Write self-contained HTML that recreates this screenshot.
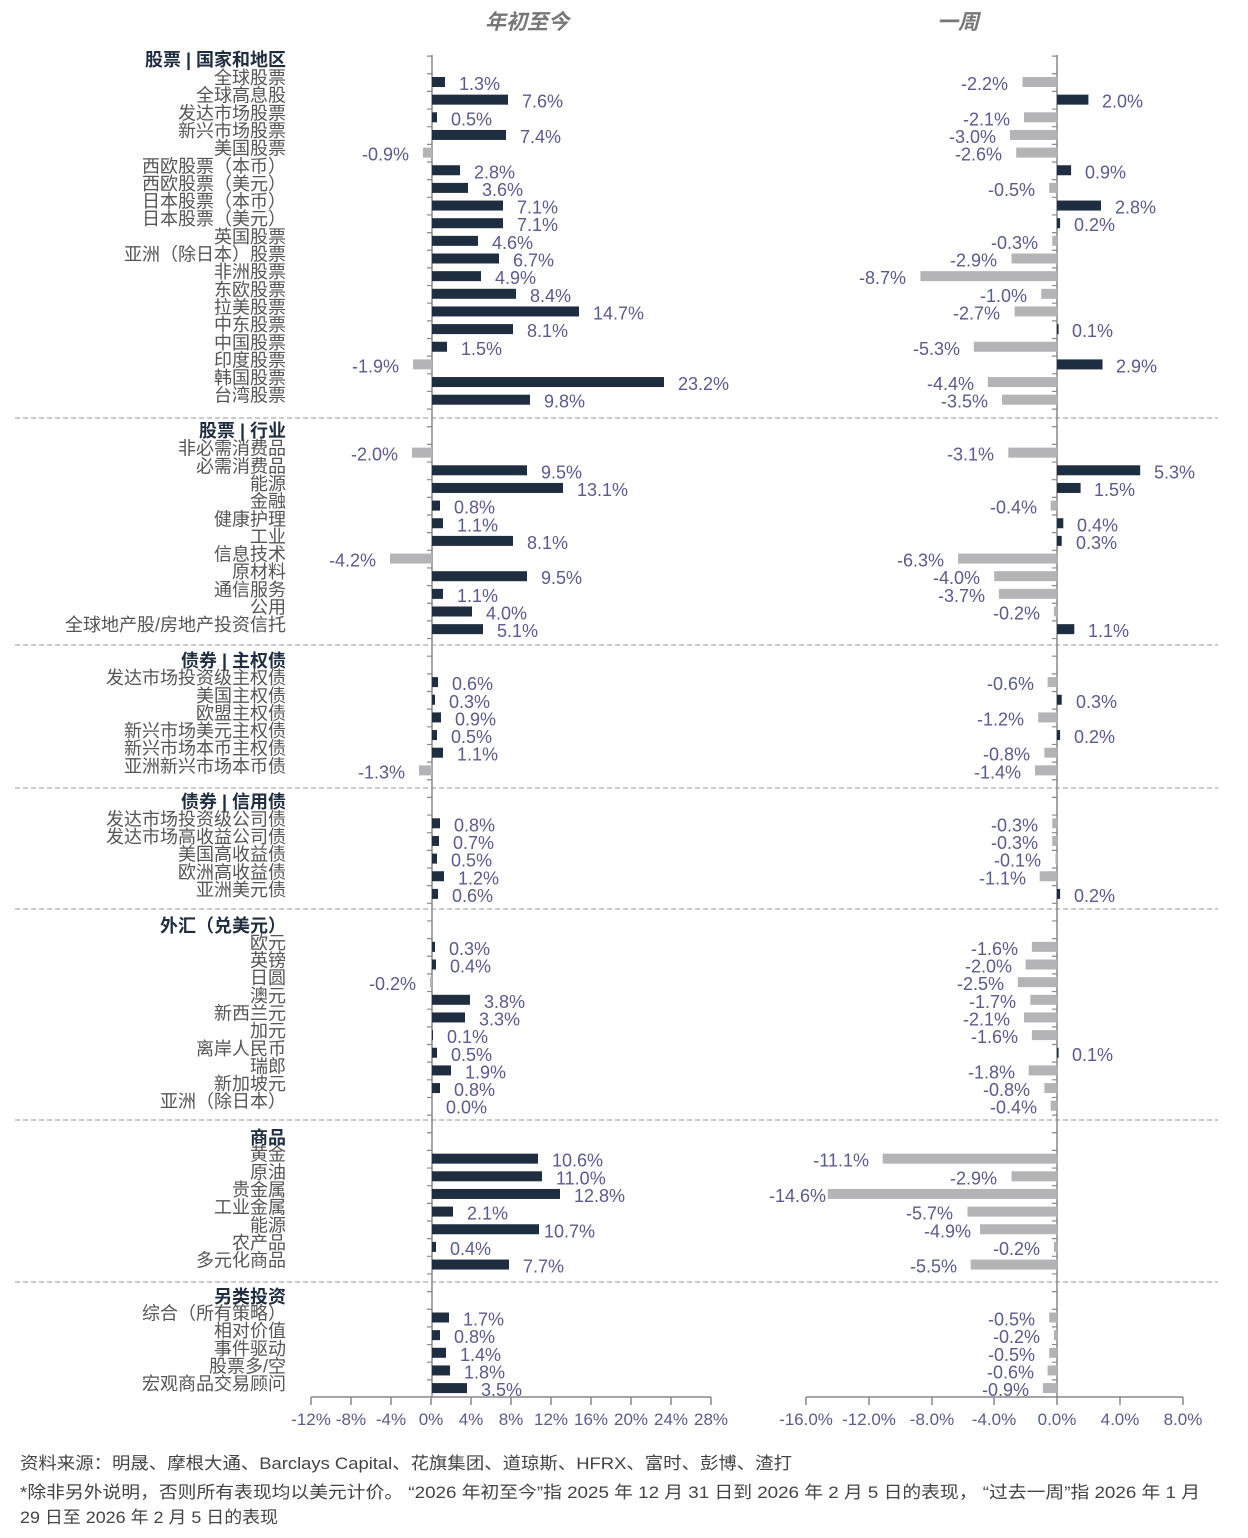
<!DOCTYPE html>
<html><head><meta charset="utf-8"><style>
body{margin:0;background:#fff;}
svg{display:block;font-family:"Liberation Sans","Noto Sans CJK SC",sans-serif;}
.c{font-size:18px;fill:#555;text-anchor:end;}
.h{font-size:18px;fill:#1f2d40;font-weight:bold;text-anchor:end;}
.v{font-size:18px;fill:#5b5a8e;}
.e{text-anchor:end;}
.d{fill:#1f2d40;}
.g{fill:#b4b4b7;}
.t{font-size:17px;fill:#5b5a8e;text-anchor:middle;}
.f{font-size:17px;fill:#444;}
</style></head><body>
<svg width="1248" height="1538" viewBox="0 0 1248 1538">
<text x="527" y="29" text-anchor="middle" font-size="21" font-style="italic" font-weight="bold" fill="#777">年初至今</text>
<text x="958" y="29" text-anchor="middle" font-size="21" font-style="italic" font-weight="bold" fill="#777">一周</text>
<g stroke="#aaa" stroke-width="1.3" stroke-dasharray="5 3">
<line x1="15" x2="1218" y1="418" y2="418"/><line x1="15" x2="1218" y1="645" y2="645"/><line x1="15" x2="1218" y1="788" y2="788"/><line x1="15" x2="1218" y1="909" y2="909"/><line x1="15" x2="1218" y1="1120" y2="1120"/><line x1="15" x2="1218" y1="1282" y2="1282"/>
</g>
<g stroke="#888" stroke-width="1.5" fill="none">
<line x1="432" y1="55" x2="432" y2="1397"/>
<line x1="1057" y1="55" x2="1057" y2="1397"/>
<line x1="311" y1="1397" x2="711" y2="1397"/>
<line x1="806" y1="1397" x2="1183" y2="1397"/>
</g>
<line x1="429.5" y1="55.5" x2="429.5" y2="1397" stroke="#888" stroke-width="5" stroke-dasharray="1.2 16.45"/>
<line x1="1054.5" y1="55.5" x2="1054.5" y2="1397" stroke="#888" stroke-width="5" stroke-dasharray="1.2 16.45"/>
<g stroke="#888" stroke-width="1.5">
<line x1="311" y1="1397" x2="311" y2="1405"/><line x1="351" y1="1397" x2="351" y2="1405"/><line x1="391" y1="1397" x2="391" y2="1405"/><line x1="431" y1="1397" x2="431" y2="1405"/><line x1="471" y1="1397" x2="471" y2="1405"/><line x1="511" y1="1397" x2="511" y2="1405"/><line x1="551" y1="1397" x2="551" y2="1405"/><line x1="591" y1="1397" x2="591" y2="1405"/><line x1="631" y1="1397" x2="631" y2="1405"/><line x1="671" y1="1397" x2="671" y2="1405"/><line x1="711" y1="1397" x2="711" y2="1405"/>
<line x1="806" y1="1397" x2="806" y2="1405"/><line x1="869" y1="1397" x2="869" y2="1405"/><line x1="932" y1="1397" x2="932" y2="1405"/><line x1="994" y1="1397" x2="994" y2="1405"/><line x1="1057" y1="1397" x2="1057" y2="1405"/><line x1="1120" y1="1397" x2="1120" y2="1405"/><line x1="1183" y1="1397" x2="1183" y2="1405"/>
</g>
<g class="t">
<text x="311" y="1425">-12%</text><text x="351" y="1425">-8%</text><text x="391" y="1425">-4%</text><text x="431" y="1425">0%</text><text x="471" y="1425">4%</text><text x="511" y="1425">8%</text><text x="551" y="1425">12%</text><text x="591" y="1425">16%</text><text x="631" y="1425">20%</text><text x="671" y="1425">24%</text><text x="711" y="1425">28%</text>
<text x="806" y="1425">-16.0%</text><text x="869" y="1425">-12.0%</text><text x="932" y="1425">-8.0%</text><text x="994" y="1425">-4.0%</text><text x="1057" y="1425">0.0%</text><text x="1120" y="1425">4.0%</text><text x="1183" y="1425">8.0%</text>
</g>
<text class="h" x="286" y="66">股票 | 国家和地区</text>
<text class="h" x="286" y="437">股票 | 行业</text>
<text class="h" x="286" y="667">债券 | 主权债</text>
<text class="h" x="286" y="808">债券 | 信用债</text>
<text class="h" x="286" y="932">外汇（兑美元）</text>
<text class="h" x="286" y="1144">商品</text>
<text class="h" x="286" y="1303">另类投资</text>

<g transform="translate(0,82)"><text class="c" x="286" y="2">全球股票</text><rect class="d" x="432" y="-5" width="13" height="10"/><text class="v" x="459" y="8">1.3%</text><rect class="g" x="1022.5" y="-5" width="34.5" height="10"/><text class="v e" x="1008" y="8">-2.2%</text></g>
<g transform="translate(0,99.65)"><text class="c" x="286" y="2">全球高息股</text><rect class="d" x="432" y="-5" width="76" height="10"/><text class="v" x="522" y="8">7.6%</text><rect class="d" x="1057" y="-5" width="31.4" height="10"/><text class="v" x="1102" y="8">2.0%</text></g>
<g transform="translate(0,117.3)"><text class="c" x="286" y="2">发达市场股票</text><rect class="d" x="432" y="-5" width="5" height="10"/><text class="v" x="451" y="8">0.5%</text><rect class="g" x="1024" y="-5" width="33" height="10"/><text class="v e" x="1010" y="8">-2.1%</text></g>
<g transform="translate(0,134.95)"><text class="c" x="286" y="2">新兴市场股票</text><rect class="d" x="432" y="-5" width="74" height="10"/><text class="v" x="520" y="8">7.4%</text><rect class="g" x="1009.9" y="-5" width="47.1" height="10"/><text class="v e" x="996" y="8">-3.0%</text></g>
<g transform="translate(0,152.6)"><text class="c" x="286" y="2">美国股票</text><rect class="g" x="423" y="-5" width="9" height="10"/><text class="v e" x="409" y="8">-0.9%</text><rect class="g" x="1016.2" y="-5" width="40.8" height="10"/><text class="v e" x="1002" y="8">-2.6%</text></g>
<g transform="translate(0,170.25)"><text class="c" x="286" y="2">西欧股票（本币）</text><rect class="d" x="432" y="-5" width="28" height="10"/><text class="v" x="474" y="8">2.8%</text><rect class="d" x="1057" y="-5" width="14.1" height="10"/><text class="v" x="1085" y="8">0.9%</text></g>
<g transform="translate(0,187.9)"><text class="c" x="286" y="2">西欧股票（美元）</text><rect class="d" x="432" y="-5" width="36" height="10"/><text class="v" x="482" y="8">3.6%</text><rect class="g" x="1049.2" y="-5" width="7.8" height="10"/><text class="v e" x="1035" y="8">-0.5%</text></g>
<g transform="translate(0,205.55)"><text class="c" x="286" y="2">日本股票（本币）</text><rect class="d" x="432" y="-5" width="71" height="10"/><text class="v" x="517" y="8">7.1%</text><rect class="d" x="1057" y="-5" width="44" height="10"/><text class="v" x="1115" y="8">2.8%</text></g>
<g transform="translate(0,223.2)"><text class="c" x="286" y="2">日本股票（美元）</text><rect class="d" x="432" y="-5" width="71" height="10"/><text class="v" x="517" y="8">7.1%</text><rect class="d" x="1057" y="-5" width="3.1" height="10"/><text class="v" x="1074" y="8">0.2%</text></g>
<g transform="translate(0,240.85)"><text class="c" x="286" y="2">英国股票</text><rect class="d" x="432" y="-5" width="46" height="10"/><text class="v" x="492" y="8">4.6%</text><rect class="g" x="1052.3" y="-5" width="4.7" height="10"/><text class="v e" x="1038" y="8">-0.3%</text></g>
<g transform="translate(0,258.5)"><text class="c" x="286" y="2">亚洲（除日本）股票</text><rect class="d" x="432" y="-5" width="67" height="10"/><text class="v" x="513" y="8">6.7%</text><rect class="g" x="1011.5" y="-5" width="45.5" height="10"/><text class="v e" x="997" y="8">-2.9%</text></g>
<g transform="translate(0,276.15)"><text class="c" x="286" y="2">非洲股票</text><rect class="d" x="432" y="-5" width="49" height="10"/><text class="v" x="495" y="8">4.9%</text><rect class="g" x="920.4" y="-5" width="136.6" height="10"/><text class="v e" x="906" y="8">-8.7%</text></g>
<g transform="translate(0,293.8)"><text class="c" x="286" y="2">东欧股票</text><rect class="d" x="432" y="-5" width="84" height="10"/><text class="v" x="530" y="8">8.4%</text><rect class="g" x="1041.3" y="-5" width="15.7" height="10"/><text class="v e" x="1027" y="8">-1.0%</text></g>
<g transform="translate(0,311.45)"><text class="c" x="286" y="2">拉美股票</text><rect class="d" x="432" y="-5" width="147" height="10"/><text class="v" x="593" y="8">14.7%</text><rect class="g" x="1014.6" y="-5" width="42.4" height="10"/><text class="v e" x="1000" y="8">-2.7%</text></g>
<g transform="translate(0,329.1)"><text class="c" x="286" y="2">中东股票</text><rect class="d" x="432" y="-5" width="81" height="10"/><text class="v" x="527" y="8">8.1%</text><rect class="d" x="1057" y="-5" width="1.6" height="10"/><text class="v" x="1072" y="8">0.1%</text></g>
<g transform="translate(0,346.75)"><text class="c" x="286" y="2">中国股票</text><rect class="d" x="432" y="-5" width="15" height="10"/><text class="v" x="461" y="8">1.5%</text><rect class="g" x="973.8" y="-5" width="83.2" height="10"/><text class="v e" x="960" y="8">-5.3%</text></g>
<g transform="translate(0,364.4)"><text class="c" x="286" y="2">印度股票</text><rect class="g" x="413" y="-5" width="19" height="10"/><text class="v e" x="399" y="8">-1.9%</text><rect class="d" x="1057" y="-5" width="45.5" height="10"/><text class="v" x="1116" y="8">2.9%</text></g>
<g transform="translate(0,382.05)"><text class="c" x="286" y="2">韩国股票</text><rect class="d" x="432" y="-5" width="232" height="10"/><text class="v" x="678" y="8">23.2%</text><rect class="g" x="987.9" y="-5" width="69.1" height="10"/><text class="v e" x="974" y="8">-4.4%</text></g>
<g transform="translate(0,399.7)"><text class="c" x="286" y="2">台湾股票</text><rect class="d" x="432" y="-5" width="98" height="10"/><text class="v" x="544" y="8">9.8%</text><rect class="g" x="1002" y="-5" width="55" height="10"/><text class="v e" x="988" y="8">-3.5%</text></g>

<g transform="translate(0,452.65)"><text class="c" x="286" y="2">非必需消费品</text><rect class="g" x="412" y="-5" width="20" height="10"/><text class="v e" x="398" y="8">-2.0%</text><rect class="g" x="1008.3" y="-5" width="48.7" height="10"/><text class="v e" x="994" y="8">-3.1%</text></g>
<g transform="translate(0,470.3)"><text class="c" x="286" y="2">必需消费品</text><rect class="d" x="432" y="-5" width="95" height="10"/><text class="v" x="541" y="8">9.5%</text><rect class="d" x="1057" y="-5" width="83.2" height="10"/><text class="v" x="1154" y="8">5.3%</text></g>
<g transform="translate(0,487.95)"><text class="c" x="286" y="2">能源</text><rect class="d" x="432" y="-5" width="131" height="10"/><text class="v" x="577" y="8">13.1%</text><rect class="d" x="1057" y="-5" width="23.6" height="10"/><text class="v" x="1094" y="8">1.5%</text></g>
<g transform="translate(0,505.6)"><text class="c" x="286" y="2">金融</text><rect class="d" x="432" y="-5" width="8" height="10"/><text class="v" x="454" y="8">0.8%</text><rect class="g" x="1050.7" y="-5" width="6.3" height="10"/><text class="v e" x="1037" y="8">-0.4%</text></g>
<g transform="translate(0,523.25)"><text class="c" x="286" y="2">健康护理</text><rect class="d" x="432" y="-5" width="11" height="10"/><text class="v" x="457" y="8">1.1%</text><rect class="d" x="1057" y="-5" width="6.3" height="10"/><text class="v" x="1077" y="8">0.4%</text></g>
<g transform="translate(0,540.9)"><text class="c" x="286" y="2">工业</text><rect class="d" x="432" y="-5" width="81" height="10"/><text class="v" x="527" y="8">8.1%</text><rect class="d" x="1057" y="-5" width="4.7" height="10"/><text class="v" x="1076" y="8">0.3%</text></g>
<g transform="translate(0,558.55)"><text class="c" x="286" y="2">信息技术</text><rect class="g" x="390" y="-5" width="42" height="10"/><text class="v e" x="376" y="8">-4.2%</text><rect class="g" x="958.1" y="-5" width="98.9" height="10"/><text class="v e" x="944" y="8">-6.3%</text></g>
<g transform="translate(0,576.2)"><text class="c" x="286" y="2">原材料</text><rect class="d" x="432" y="-5" width="95" height="10"/><text class="v" x="541" y="8">9.5%</text><rect class="g" x="994.2" y="-5" width="62.8" height="10"/><text class="v e" x="980" y="8">-4.0%</text></g>
<g transform="translate(0,593.85)"><text class="c" x="286" y="2">通信服务</text><rect class="d" x="432" y="-5" width="11" height="10"/><text class="v" x="457" y="8">1.1%</text><rect class="g" x="998.9" y="-5" width="58.1" height="10"/><text class="v e" x="985" y="8">-3.7%</text></g>
<g transform="translate(0,611.5)"><text class="c" x="286" y="2">公用</text><rect class="d" x="432" y="-5" width="40" height="10"/><text class="v" x="486" y="8">4.0%</text><rect class="g" x="1053.9" y="-5" width="3.1" height="10"/><text class="v e" x="1040" y="8">-0.2%</text></g>
<g transform="translate(0,629.15)"><text class="c" x="286" y="2">全球地产股/房地产投资信托</text><rect class="d" x="432" y="-5" width="51" height="10"/><text class="v" x="497" y="8">5.1%</text><rect class="d" x="1057" y="-5" width="17.3" height="10"/><text class="v" x="1088" y="8">1.1%</text></g>

<g transform="translate(0,682.1)"><text class="c" x="286" y="2">发达市场投资级主权债</text><rect class="d" x="432" y="-5" width="6" height="10"/><text class="v" x="452" y="8">0.6%</text><rect class="g" x="1047.6" y="-5" width="9.4" height="10"/><text class="v e" x="1034" y="8">-0.6%</text></g>
<g transform="translate(0,699.75)"><text class="c" x="286" y="2">美国主权债</text><rect class="d" x="432" y="-5" width="3" height="10"/><text class="v" x="449" y="8">0.3%</text><rect class="d" x="1057" y="-5" width="4.7" height="10"/><text class="v" x="1076" y="8">0.3%</text></g>
<g transform="translate(0,717.4)"><text class="c" x="286" y="2">欧盟主权债</text><rect class="d" x="432" y="-5" width="9" height="10"/><text class="v" x="455" y="8">0.9%</text><rect class="g" x="1038.2" y="-5" width="18.8" height="10"/><text class="v e" x="1024" y="8">-1.2%</text></g>
<g transform="translate(0,735.05)"><text class="c" x="286" y="2">新兴市场美元主权债</text><rect class="d" x="432" y="-5" width="5" height="10"/><text class="v" x="451" y="8">0.5%</text><rect class="d" x="1057" y="-5" width="3.1" height="10"/><text class="v" x="1074" y="8">0.2%</text></g>
<g transform="translate(0,752.7)"><text class="c" x="286" y="2">新兴市场本币主权债</text><rect class="d" x="432" y="-5" width="11" height="10"/><text class="v" x="457" y="8">1.1%</text><rect class="g" x="1044.4" y="-5" width="12.6" height="10"/><text class="v e" x="1030" y="8">-0.8%</text></g>
<g transform="translate(0,770.35)"><text class="c" x="286" y="2">亚洲新兴市场本币债</text><rect class="g" x="419" y="-5" width="13" height="10"/><text class="v e" x="405" y="8">-1.3%</text><rect class="g" x="1035" y="-5" width="22" height="10"/><text class="v e" x="1021" y="8">-1.4%</text></g>

<g transform="translate(0,823.3)"><text class="c" x="286" y="2">发达市场投资级公司债</text><rect class="d" x="432" y="-5" width="8" height="10"/><text class="v" x="454" y="8">0.8%</text><rect class="g" x="1052.3" y="-5" width="4.7" height="10"/><text class="v e" x="1038" y="8">-0.3%</text></g>
<g transform="translate(0,840.95)"><text class="c" x="286" y="2">发达市场高收益公司债</text><rect class="d" x="432" y="-5" width="7" height="10"/><text class="v" x="453" y="8">0.7%</text><rect class="g" x="1052.3" y="-5" width="4.7" height="10"/><text class="v e" x="1038" y="8">-0.3%</text></g>
<g transform="translate(0,858.6)"><text class="c" x="286" y="2">美国高收益债</text><rect class="d" x="432" y="-5" width="5" height="10"/><text class="v" x="451" y="8">0.5%</text><rect class="g" x="1055.4" y="-5" width="1.6" height="10"/><text class="v e" x="1041" y="8">-0.1%</text></g>
<g transform="translate(0,876.25)"><text class="c" x="286" y="2">欧洲高收益债</text><rect class="d" x="432" y="-5" width="12" height="10"/><text class="v" x="458" y="8">1.2%</text><rect class="g" x="1039.7" y="-5" width="17.3" height="10"/><text class="v e" x="1026" y="8">-1.1%</text></g>
<g transform="translate(0,893.9)"><text class="c" x="286" y="2">亚洲美元债</text><rect class="d" x="432" y="-5" width="6" height="10"/><text class="v" x="452" y="8">0.6%</text><rect class="d" x="1057" y="-5" width="3.1" height="10"/><text class="v" x="1074" y="8">0.2%</text></g>

<g transform="translate(0,946.85)"><text class="c" x="286" y="2">欧元</text><rect class="d" x="432" y="-5" width="3" height="10"/><text class="v" x="449" y="8">0.3%</text><rect class="g" x="1031.9" y="-5" width="25.1" height="10"/><text class="v e" x="1018" y="8">-1.6%</text></g>
<g transform="translate(0,964.5)"><text class="c" x="286" y="2">英镑</text><rect class="d" x="432" y="-5" width="4" height="10"/><text class="v" x="450" y="8">0.4%</text><rect class="g" x="1025.6" y="-5" width="31.4" height="10"/><text class="v e" x="1012" y="8">-2.0%</text></g>
<g transform="translate(0,982.15)"><text class="c" x="286" y="2">日圆</text><rect class="g" x="430" y="-5" width="2" height="10"/><text class="v e" x="416" y="8">-0.2%</text><rect class="g" x="1017.8" y="-5" width="39.2" height="10"/><text class="v e" x="1004" y="8">-2.5%</text></g>
<g transform="translate(0,999.8)"><text class="c" x="286" y="2">澳元</text><rect class="d" x="432" y="-5" width="38" height="10"/><text class="v" x="484" y="8">3.8%</text><rect class="g" x="1030.3" y="-5" width="26.7" height="10"/><text class="v e" x="1016" y="8">-1.7%</text></g>
<g transform="translate(0,1017.45)"><text class="c" x="286" y="2">新西兰元</text><rect class="d" x="432" y="-5" width="33" height="10"/><text class="v" x="479" y="8">3.3%</text><rect class="g" x="1024" y="-5" width="33" height="10"/><text class="v e" x="1010" y="8">-2.1%</text></g>
<g transform="translate(0,1035.1)"><text class="c" x="286" y="2">加元</text><rect class="d" x="432" y="-5" width="1" height="10"/><text class="v" x="447" y="8">0.1%</text><rect class="g" x="1031.9" y="-5" width="25.1" height="10"/><text class="v e" x="1018" y="8">-1.6%</text></g>
<g transform="translate(0,1052.75)"><text class="c" x="286" y="2">离岸人民币</text><rect class="d" x="432" y="-5" width="5" height="10"/><text class="v" x="451" y="8">0.5%</text><rect class="d" x="1057" y="-5" width="1.6" height="10"/><text class="v" x="1072" y="8">0.1%</text></g>
<g transform="translate(0,1070.4)"><text class="c" x="286" y="2">瑞郎</text><rect class="d" x="432" y="-5" width="19" height="10"/><text class="v" x="465" y="8">1.9%</text><rect class="g" x="1028.7" y="-5" width="28.3" height="10"/><text class="v e" x="1015" y="8">-1.8%</text></g>
<g transform="translate(0,1088.05)"><text class="c" x="286" y="2">新加坡元</text><rect class="d" x="432" y="-5" width="8" height="10"/><text class="v" x="454" y="8">0.8%</text><rect class="g" x="1044.4" y="-5" width="12.6" height="10"/><text class="v e" x="1030" y="8">-0.8%</text></g>
<g transform="translate(0,1105.7)"><text class="c" x="286" y="2">亚洲（除日本）</text><text class="v" x="446" y="8">0.0%</text><rect class="g" x="1050.7" y="-5" width="6.3" height="10"/><text class="v e" x="1037" y="8">-0.4%</text></g>

<g transform="translate(0,1158.65)"><text class="c" x="286" y="2">黄金</text><rect class="d" x="432" y="-5" width="106" height="10"/><text class="v" x="552" y="8">10.6%</text><rect class="g" x="882.7" y="-5" width="174.3" height="10"/><text class="v e" x="869" y="8">-11.1%</text></g>
<g transform="translate(0,1176.3)"><text class="c" x="286" y="2">原油</text><rect class="d" x="432" y="-5" width="110" height="10"/><text class="v" x="556" y="8">11.0%</text><rect class="g" x="1011.5" y="-5" width="45.5" height="10"/><text class="v e" x="997" y="8">-2.9%</text></g>
<g transform="translate(0,1193.95)"><text class="c" x="286" y="2">贵金属</text><rect class="d" x="432" y="-5" width="128" height="10"/><text class="v" x="574" y="8">12.8%</text><rect class="g" x="827.8" y="-5" width="229.2" height="10"/><text class="v e" x="826" y="8">-14.6%</text></g>
<g transform="translate(0,1211.6)"><text class="c" x="286" y="2">工业金属</text><rect class="d" x="432" y="-5" width="21" height="10"/><text class="v" x="467" y="8">2.1%</text><rect class="g" x="967.5" y="-5" width="89.5" height="10"/><text class="v e" x="953" y="8">-5.7%</text></g>
<g transform="translate(0,1229.25)"><text class="c" x="286" y="2">能源</text><rect class="d" x="432" y="-5" width="107" height="10"/><text class="v" x="544" y="8">10.7%</text><rect class="g" x="980" y="-5" width="77" height="10"/><text class="v e" x="971" y="8">-4.9%</text></g>
<g transform="translate(0,1246.9)"><text class="c" x="286" y="2">农产品</text><rect class="d" x="432" y="-5" width="4" height="10"/><text class="v" x="450" y="8">0.4%</text><rect class="g" x="1053.9" y="-5" width="3.1" height="10"/><text class="v e" x="1040" y="8">-0.2%</text></g>
<g transform="translate(0,1264.55)"><text class="c" x="286" y="2">多元化商品</text><rect class="d" x="432" y="-5" width="77" height="10"/><text class="v" x="523" y="8">7.7%</text><rect class="g" x="970.7" y="-5" width="86.3" height="10"/><text class="v e" x="957" y="8">-5.5%</text></g>

<g transform="translate(0,1317.5)"><text class="c" x="286" y="2">综合（所有策略）</text><rect class="d" x="432" y="-5" width="17" height="10"/><text class="v" x="463" y="8">1.7%</text><rect class="g" x="1049.2" y="-5" width="7.8" height="10"/><text class="v e" x="1035" y="8">-0.5%</text></g>
<g transform="translate(0,1335.15)"><text class="c" x="286" y="2">相对价值</text><rect class="d" x="432" y="-5" width="8" height="10"/><text class="v" x="454" y="8">0.8%</text><rect class="g" x="1053.9" y="-5" width="3.1" height="10"/><text class="v e" x="1040" y="8">-0.2%</text></g>
<g transform="translate(0,1352.8)"><text class="c" x="286" y="2">事件驱动</text><rect class="d" x="432" y="-5" width="14" height="10"/><text class="v" x="460" y="8">1.4%</text><rect class="g" x="1049.2" y="-5" width="7.8" height="10"/><text class="v e" x="1035" y="8">-0.5%</text></g>
<g transform="translate(0,1370.45)"><text class="c" x="286" y="2">股票多/空</text><rect class="d" x="432" y="-5" width="18" height="10"/><text class="v" x="464" y="8">1.8%</text><rect class="g" x="1047.6" y="-5" width="9.4" height="10"/><text class="v e" x="1034" y="8">-0.6%</text></g>
<g transform="translate(0,1388.1)"><text class="c" x="286" y="2">宏观商品交易顾问</text><rect class="d" x="432" y="-5" width="35" height="10"/><text class="v" x="481" y="8">3.5%</text><rect class="g" x="1042.9" y="-5" width="14.1" height="10"/><text class="v e" x="1029" y="8">-0.9%</text></g>

<text class="f" x="20" y="1469" textLength="772" lengthAdjust="spacingAndGlyphs">资料来源：明晟、摩根大通、Barclays Capital、花旗集团、道琼斯、HFRX、富时、彭博、渣打</text>
<text class="f" x="20" y="1498" textLength="1180" lengthAdjust="spacingAndGlyphs">*除非另外说明，否则所有表现均以美元计价。 “2026 年初至今”指 2025 年 12 月 31 日到 2026 年 2 月 5 日的表现， “过去一周”指 2026 年 1 月</text>
<text class="f" x="20" y="1523" textLength="258" lengthAdjust="spacingAndGlyphs">29 日至 2026 年 2 月 5 日的表现</text>
</svg>
</body></html>
